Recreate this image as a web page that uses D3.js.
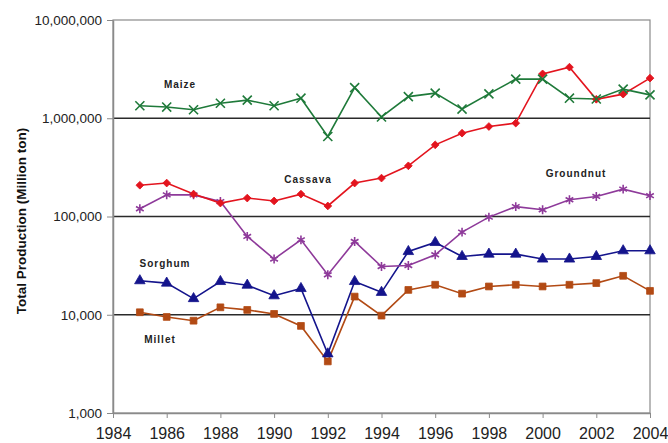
<!DOCTYPE html>
<html>
<head>
<meta charset="utf-8">
<script src="https://cdn.jsdelivr.net/npm/d3@7"></script>
<style>
  html, body { margin: 0; padding: 0; background: #fff; }
  svg { display: block; font-family: Arial, "Liberation Sans", sans-serif; }
</style>
</head>
<body>
<svg id="chart" width="668" height="443"></svg>
<script>
// Crop production per year (tons), log scale
const years = [1985,1986,1987,1988,1989,1990,1991,1992,1993,1994,1995,1996,1997,1998,1999,2000,2001,2002,2003,2004];

const maize     = [1340000,1300000,1220000,1420000,1530000,1340000,1600000,652000,2050000,1030000,1660000,1800000,1240000,1770000,2500000,2500000,1600000,1570000,1980000,1730000];
const cassava   = [208000,219000,169000,137000,154000,144000,169000,128000,219000,246000,328000,536000,705000,824000,892000,2830000,3310000,1560000,1760000,2560000];
const groundnut = [120000,166000,166000,142000,62700,36900,57900,25500,55700,31000,31700,40800,69300,98600,126000,117000,148000,160000,190000,163000];
const sorghum   = [22200,21000,14600,21800,20000,15600,18500,4000,21800,16900,44000,54400,39200,41400,41400,36900,36900,39200,44800,44800];
const millet    = [10600,9500,8700,11900,11200,10200,7700,3350,15300,9800,17900,20200,16400,19400,20200,19400,20200,21000,24900,17500];

const yTicks = [1000, 10000, 100000, 1000000, 10000000];
const xTicks = [1984,1986,1988,1990,1992,1994,1996,1998,2000,2002,2004];

const seriesNames = ["Millet", "Sorghum", "Groundnut", "Cassava", "Maize"];
const seriesValues = [millet, sorghum, groundnut, cassava, maize];
const seriesColors = ["#b24a14", "#14148c", "#8e3a9a", "#e3141e", "#1f7a3a"];

const svg = d3.select("#chart");
const plotL = 113, plotR = 650, plotT = 20, plotB = 413;

const x = d3.scaleLinear().domain([1984, 2004]).range([plotL, plotR]);
const y = d3.scaleLog().domain([1000, 10000000]).range([plotB, plotT]);

// Plot frame (top and right edges)
svg.append("rect")
  .attr("x", plotL).attr("y", plotT)
  .attr("width", plotR - plotL).attr("height", plotB - plotT)
  .attr("fill", "none").attr("stroke", "#8a8a8a").attr("stroke-width", 1.2);

// Horizontal gridlines at each decade
svg.append("g").selectAll("line")
  .data(yTicks.filter(d => d > 1000 && d < 10000000))
  .join("line")
  .attr("x1", plotL).attr("x2", plotR)
  .attr("y1", d => y(d)).attr("y2", d => y(d))
  .attr("stroke", "#2a2a2a").attr("stroke-width", 1.3);

// Y axis
const fmt = d3.format(",");
const yAxis = svg.append("g")
  .attr("transform", `translate(${plotL},0)`)
  .call(d3.axisLeft(y).tickValues(yTicks).tickFormat(fmt).tickSize(6).tickSizeOuter(0).tickPadding(5));
yAxis.select(".domain").attr("stroke", "#8a8a8a").attr("stroke-width", 1.5);
yAxis.selectAll(".tick line").attr("stroke", "#8a8a8a");
yAxis.selectAll(".tick text").attr("font-size", "13.5px").attr("fill", "#222")
  .attr("font-family", "Arial, 'Liberation Sans', sans-serif");

// X axis
const xAxis = svg.append("g")
  .attr("transform", `translate(0,${plotB})`)
  .call(d3.axisBottom(x).tickValues(xTicks).tickFormat(d3.format("d")).tickSize(5).tickSizeOuter(0).tickPadding(10));
xAxis.select(".domain").attr("stroke", "#8a8a8a").attr("stroke-width", 1.5);
xAxis.selectAll(".tick line").attr("stroke", "#8a8a8a");
xAxis.selectAll(".tick text").attr("font-size", "16px").attr("fill", "#222")
  .attr("font-family", "Arial, 'Liberation Sans', sans-serif");

// Y axis title
svg.append("text")
  .attr("transform", `translate(26,221) rotate(-90)`)
  .attr("text-anchor", "middle")
  .attr("font-size", "13.5px").attr("font-weight", "bold").attr("fill", "#111")
  .text("Total Production (Million ton)");

// Series lines
const line = d3.line().x((d, i) => x(years[i])).y(d => y(d));
seriesValues.forEach((vals, k) => {
  svg.append("path")
    .datum(vals)
    .attr("d", line)
    .attr("fill", "none")
    .attr("stroke", seriesColors[k])
    .attr("stroke-width", 1.6);
});

// Markers (cassava diamond = square turned 45 degrees)
const markerDefs = {
  Millet:    { type: d3.symbolSquare,   size: 46, stroke: false, rot: 0 },
  Sorghum:   { type: d3.symbolTriangle, size: 48, stroke: false, rot: 0 },
  Groundnut: { type: d3.symbolAsterisk, size: 55, stroke: true,  rot: 0 },
  Cassava:   { type: d3.symbolSquare,   size: 30, stroke: false, rot: 45 },
  Maize:     { type: d3.symbolTimes,    size: 55, stroke: true,  rot: 0 }
};
seriesValues.forEach((vals, k) => {
  const m = markerDefs[seriesNames[k]];
  const sym = d3.symbol().type(m.type).size(m.size);
  svg.append("g").selectAll("path")
    .data(vals)
    .join("path")
    .attr("transform", (d, i) => `translate(${x(years[i])},${y(d)}) rotate(${m.rot})`)
    .attr("d", sym)
    .attr("fill", m.stroke ? "none" : seriesColors[k])
    .attr("stroke", seriesColors[k])
    .attr("stroke-width", m.stroke ? 1.6 : 0.8);
});

// Series labels
const labelNames = ["Maize", "Cassava", "Groundnut", "Sorghum", "Millet"];
const labelPos = [[180, 88], [308, 183], [576, 177], [165, 267], [160, 343]];
svg.append("g").selectAll("text")
  .data(labelNames)
  .join("text")
  .attr("x", (d, i) => labelPos[i][0])
  .attr("y", (d, i) => labelPos[i][1])
  .attr("text-anchor", "middle")
  .attr("font-size", "10px").attr("font-weight", "bold")
  .attr("letter-spacing", "1px").attr("fill", "#222")
  .text(d => d);
</script>
</body>
</html>
